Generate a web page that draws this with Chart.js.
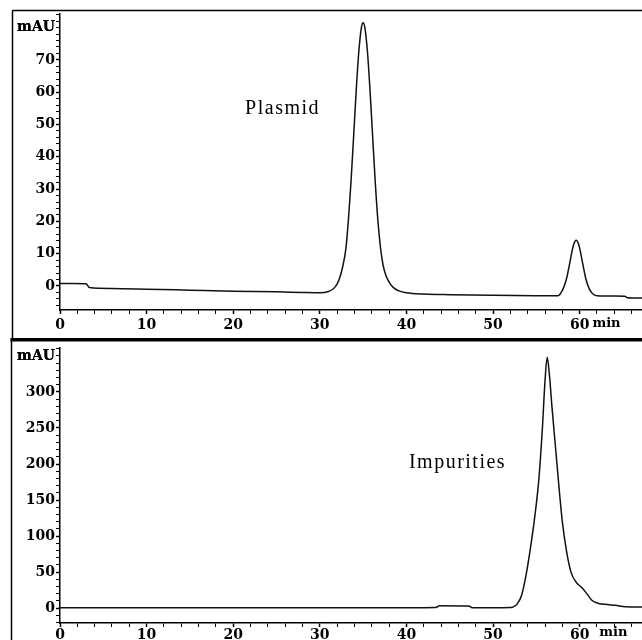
<!DOCTYPE html>
<html>
<head>
<meta charset="utf-8">
<title>Plasmid / Impurities chromatograms</title>
<script src="https://cdn.jsdelivr.net/npm/chart.js@4.4.1/dist/chart.umd.min.js"></script>
<style>
  html, body { margin: 0; padding: 0; background: #fff; }
  #wrap { position: relative; width: 642px; height: 640px; overflow: hidden; }
  .panel { position: absolute; left: 0; width: 642px; }
  #top { top: 0; height: 338px; }
  #bottom { top: 338px; height: 302px; }
</style>
</head>
<body>
<div id="wrap">
  <div class="panel" id="top"><canvas id="plasmidChart" width="642" height="338"></canvas></div>
  <div class="panel" id="bottom"><canvas id="impurityChart" width="642" height="302"></canvas></div>
</div>
<script>
  // retention time (min) and absorbance (mAU)
  const plasmidTime = [0, 1.5, 3.0, 3.4, 6, 10, 15, 20, 25, 28, 30, 31, 31.7, 32.2, 32.6, 33.0, 33.3, 33.6, 33.9,
    34.2, 34.5, 34.8, 35.0, 35.2, 35.5, 35.8, 36.1, 36.4, 36.7, 37.0, 37.3, 37.6, 38.0, 38.5, 39.2, 40.0, 42, 45,
    50, 55, 57.5, 58.1, 58.5, 58.8, 59.1, 59.3, 59.6, 59.9, 60.1, 60.4, 60.7, 61.1, 61.5, 62, 64, 65.2, 65.5, 67.2];
  const plasmidMAU = [0.8, 0.8, 0.7, -0.5, -0.8, -1.0, -1.3, -1.6, -1.8, -2.0, -2.1, -1.7, -0.5, 1.8, 5.5, 11.4, 20.4,
    32.2, 46.2, 60.4, 72.5, 80.0, 81.5, 80.0, 72.5, 60.4, 46.2, 32.2, 20.4, 12.0, 6.5, 3.5, 1.2, -0.5, -1.6, -2.1,
    -2.5, -2.7, -2.9, -3.0, -3.0, -0.8, 2.4, 6.3, 10.5, 12.8, 14.2, 12.8, 10.5, 6.3, 2.4, -0.8, -2.4, -3.0, -3.1,
    -3.2, -3.6, -3.7];

  const impurityTime = [0, 10, 20, 30, 40, 43.4, 43.8, 47.2, 47.6, 50, 52.0, 52.3, 52.8, 53.3, 53.8, 54.3, 54.8,
    55.3, 55.7, 56.0, 56.25, 56.5, 56.8, 57.2, 57.6, 58.0, 58.5, 59.0, 59.6, 60.3, 60.9, 61.4, 62.2, 63.2, 64.1,
    65.3, 67.2];
  const impurityMAU = [0.5, 0.5, 0.5, 0.5, 0.5, 0.8, 3.5, 3.0, 0.5, 0.5, 0.8, 1.5, 6, 18, 45, 82, 125, 180, 250,
    315, 348, 325, 280, 225, 170, 120, 78, 50, 36, 28, 19, 11, 6.5, 5, 4, 2, 1.5];

  // tick labels
  const timeTicks = [0, 10, 20, 30, 40, 50, 60];
  const plasmidTicks = [0, 10, 20, 30, 40, 50, 60, 70];
  const impurityTicks = [0, 50, 100, 150, 200, 250, 300];

  const tickFont = { family: 'DejaVu Serif', size: 14, weight: 'bold' };

  // frame lines, unit labels and peak names
  const panelFrame = {
    id: 'panelFrame',
    afterDraw(chart, args, opts) {
      const ctx = chart.ctx;
      const x = chart.scales.x, y = chart.scales.y;
      ctx.save();
      ctx.strokeStyle = '#000';
      ctx.fillStyle = '#000';
      ctx.lineWidth = 1.5;
      ctx.beginPath();
      ctx.moveTo(opts.left, opts.frameTop);
      ctx.lineTo(opts.left, chart.height);
      if (opts.topLine) {
        ctx.moveTo(opts.left, opts.frameTop);
        ctx.lineTo(chart.width, opts.frameTop);
      }
      ctx.stroke();
      if (opts.thickTop) ctx.fillRect(opts.left - 1, 0, chart.width, 3.5);

      ctx.font = 'bold 13px "DejaVu Serif"';
      ctx.textAlign = 'center';
      ctx.textBaseline = 'middle';
      ctx.fillText('min', x.getPixelForValue(opts.minAt), chart.chartArea.bottom + opts.minOffset);

      ctx.font = '20px "Liberation Serif"';
      ctx.letterSpacing = '1.5px';
      ctx.fillText(opts.label, x.getPixelForValue(opts.labelAt[0]), y.getPixelForValue(opts.labelAt[1]));
      ctx.restore();
    }
  };

  function makeChart(id, time, values, cfg) {
    const majorX = timeTicks;
    const minorX = [];
    for (let t = 0; t <= 66; t += 2) minorX.push(t);
    const minorY = [];
    for (let v = cfg.minorStart; v <= cfg.yMax; v += cfg.minorStep) minorY.push(v);

    return new Chart(document.getElementById(id), {
      type: 'line',
      data: {
        datasets: [{
          data: time.map((t, i) => ({ x: t, y: values[i] })),
          borderColor: '#111',
          borderWidth: 1.5,
          pointRadius: 0,
          fill: false,
          cubicInterpolationMode: 'monotone'
        }]
      },
      options: {
        responsive: false,
        animation: false,
        devicePixelRatio: 1,
        layout: { padding: { top: cfg.padTop, left: 0, right: 0, bottom: 0 } },
        plugins: {
          legend: { display: false },
          tooltip: { enabled: false },
          panelFrame: cfg.frame
        },
        scales: {
          x: {
            type: 'linear',
            min: 0,
            max: 67.2,
            afterBuildTicks: (s) => { s.ticks = minorX.map(v => ({ value: v })); },
            afterFit: (s) => { s.height = cfg.xHeight; },
            grid: {
              drawOnChartArea: false,
              tickLength: 4,
              tickColor: '#000',
              tickWidth: (c) => (majorX.includes(c.tick && c.tick.value) ? 1.5 : 1)
            },
            border: { display: true, color: '#000', width: 1.5 },
            ticks: {
              autoSkip: false,
              maxRotation: 0,
              padding: cfg.xPad,
              color: '#000',
              font: tickFont,
              callback: (v) => (majorX.includes(v) ? String(v) : '')
            }
          },
          y: {
            type: 'linear',
            min: cfg.yMin,
            max: cfg.yMax,
            afterBuildTicks: (s) => {
              const vals = minorY.slice();
              vals.push(cfg.unitAt);
              s.ticks = vals.map(v => ({ value: v }));
            },
            afterFit: (s) => { s.width = 60; },
            grid: {
              drawOnChartArea: false,
              tickLength: 4,
              tickColor: '#000',
              tickWidth: (c) => (cfg.yLabels.includes(c.tick && c.tick.value) ? 1.5 : 1)
            },
            border: { display: true, color: '#000', width: 1.5 },
            ticks: {
              autoSkip: false,
              padding: 1,
              color: '#000',
              font: tickFont,
              callback: (v) => {
                if (v === cfg.unitAt) return 'mAU';
                return cfg.yLabels.includes(v) ? String(v) : '';
              }
            }
          }
        }
      },
      plugins: [panelFrame]
    });
  }

  makeChart('plasmidChart', plasmidTime, plasmidMAU, {
    yMin: -7.43, yMax: 84.2, unitAt: 80, yLabels: plasmidTicks,
    minorStart: -6, minorStep: 2,
    padTop: 14, xHeight: 28, xPad: 3,
    frame: { left: 12.5, frameTop: 10.5, topLine: true, thickTop: false,
      minAt: 63.1, minOffset: 14, label: 'Plasmid', labelAt: [25.7, 55] }
  });

  makeChart('impurityChart', impurityTime, impurityMAU, {
    yMin: -20.6, yMax: 361.8, unitAt: 350, yLabels: impurityTicks,
    minorStart: -20, minorStep: 10,
    padTop: 7, xHeight: 17, xPad: 0,
    frame: { left: 11.5, frameTop: 0, topLine: false, thickTop: true,
      minAt: 63.9, minOffset: 10, label: 'Impurities', labelAt: [45.9, 202] }
  });
</script>
</body>
</html>
